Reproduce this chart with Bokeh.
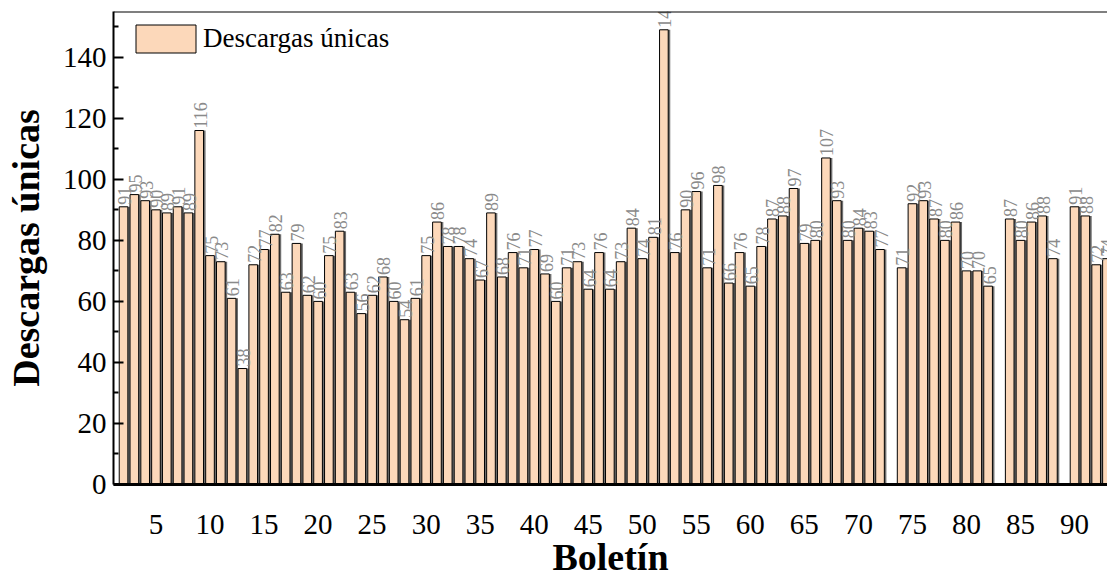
import math
from bokeh.plotting import figure
from bokeh.models import (ColumnDataSource, FixedTicker, Legend, LegendItem,
                          Span, Range1d)
from bokeh.core.properties import value
from bokeh.embed import file_html
from bokeh.resources import INLINE

# ---- data ----
boletin = list(range(2, 94))
descargas = [91, 95, 93, 90, 89, 91, 89, 116, 75, 73, 61, 38, 72, 77, 82, 63,
             79, 62, 60, 75, 83, 63, 56, 62, 68, 60, 54, 61, 75, 86, 78, 78,
             74, 67, 89, 68, 76, 71, 77, 69, 60, 71, 73, 64, 76, 64, 73, 84,
             74, 81, 149, 76, 90, 96, 71, 98, 66, 76, 65, 78, 87, 88, 97, 79,
             80, 107, 93, 80, 84, 83, 77, None, 71, 92, 93, 87, 80, 86, 70,
             70, 65, None, 87, 80, 86, 88, 74, None, 91, 88, 72, 74]
x_ticks = list(range(5, 95, 5))
y_ticks = [0, 20, 40, 60, 80, 100, 120, 140]
y_minor = [10, 30, 50, 70, 90, 110, 130, 150]

xs = [b for b, d in zip(boletin, descargas) if d is not None]
ys = [d for d in descargas if d is not None]
src = ColumnDataSource(dict(x=xs, y=ys, lab=[str(v) for v in ys],
                            xs_sh=[v + 0.19 for v in xs]))

FONT = "Liberation Serif"
FILL = "#FCD8BA"

p = figure(width=1107, height=580, x_range=Range1d(1.07, 93.05),
           y_range=Range1d(0, 155), output_backend="svg",
           toolbar_location=None, min_border_left=113, min_border_right=0,
           min_border_top=11, min_border_bottom=96)
p.outline_line_color = None
p.grid.grid_line_color = None

# shadow strip
p.vbar(x="xs_sh", top="y", width=0.8, source=src, fill_color="#6e6e6e",
       line_color=None)
bars = p.vbar(x="x", top="y", width=0.8, source=src, fill_color=FILL,
              line_color="black", line_width=1)

p.text(x="x", y="y", text="lab", source=src, angle=math.pi / 2,
       text_align="left", text_baseline="middle", x_offset=1, y_offset=-2,
       text_color="#8a8a8a", text_font=value(FONT), text_font_size="18px")

p.add_layout(Span(location=155, dimension="width", line_color="black",
                  line_width=2))

# axes
xa = p.xaxis[0]
xa.ticker = FixedTicker(ticks=x_ticks, minor_ticks=[])
xa.major_tick_in = 0
xa.major_tick_out = 0
xa.minor_tick_line_color = None
xa.axis_line_width = 3
xa.axis_line_color = "black"
xa.major_label_text_font = FONT
xa.major_label_text_font_size = "29px"
xa.major_label_text_color = "black"
xa.major_label_standoff = 30
xa.axis_label = "Boletín"
xa.axis_label_text_font = FONT
xa.axis_label_text_font_style = "bold"
xa.axis_label_text_font_size = "38px"
xa.axis_label_text_color = "black"
xa.axis_label_standoff = -1

ya = p.yaxis[0]
ya.ticker = FixedTicker(ticks=y_ticks, minor_ticks=y_minor)
ya.major_tick_in = 10
ya.major_tick_out = 0
ya.minor_tick_in = 5
ya.minor_tick_out = 0
ya.axis_line_width = 2
ya.axis_line_color = "black"
ya.major_tick_line_width = 2
ya.minor_tick_line_width = 2
ya.major_label_text_font = FONT
ya.major_label_text_font_size = "29px"
ya.major_label_text_color = "black"
ya.major_label_standoff = 7
ya.axis_label = "Descargas únicas"
ya.axis_label_text_font = FONT
ya.axis_label_text_font_style = "bold"
ya.axis_label_text_font_size = "38px"
ya.axis_label_text_color = "black"
ya.axis_label_standoff = 13

legend = Legend(items=[LegendItem(label="Descargas únicas", renderers=[bars])],
                location=(15, 428), glyph_width=75, glyph_height=35,
                label_text_font=FONT, label_text_font_size="27px",
                label_text_color="black",
                border_line_color=None, background_fill_alpha=0,
                padding=0, margin=0, label_standoff=0)
p.add_layout(legend)

open("out.html", "w").write(file_html(p, INLINE))
